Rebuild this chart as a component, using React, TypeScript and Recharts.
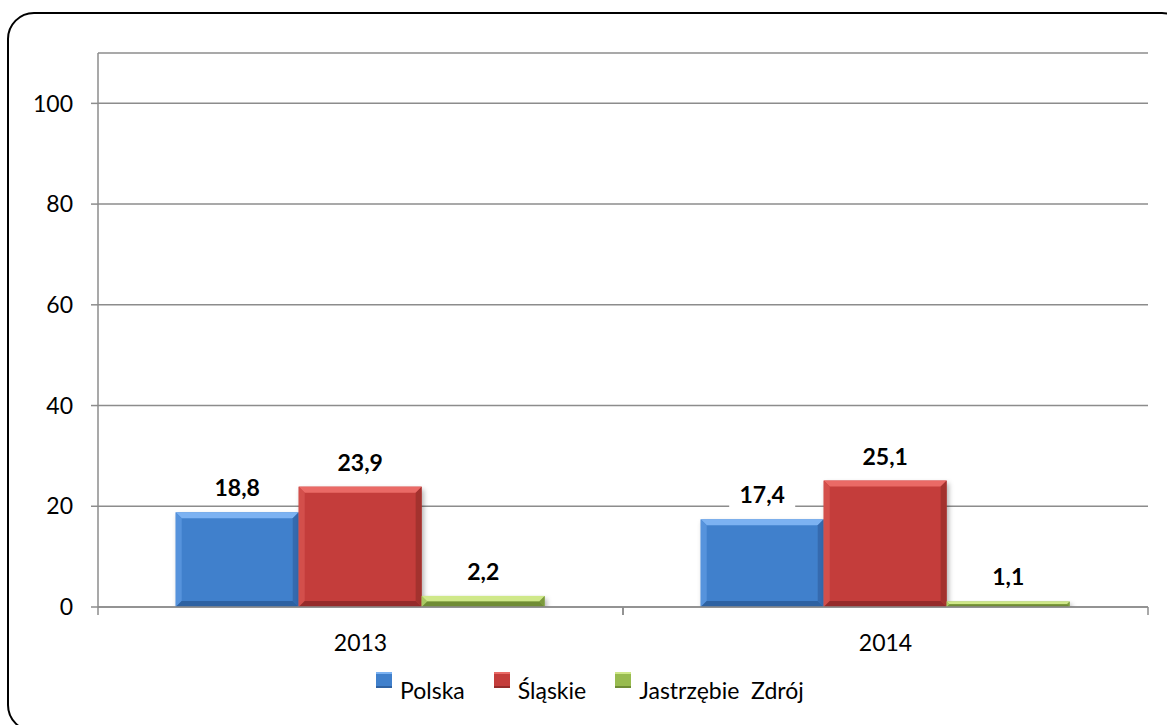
import React from "react";
import { BarChart, Bar, XAxis, YAxis, CartesianGrid, LabelList } from "recharts";

const categories = ["2013", "2014"];
const polska = [18.8, 17.4];
const slaskie = [23.9, 25.1];
const jastrzebie = [2.2, 1.1];
const yTicks = [0, 20, 40, 60, 80, 100];

const seriesNames = ["Polska", "Śląskie", "Jastrzębie  Zdrój"];

const palette = {
  blue: { base: "#4080cc", light: "#7bb2f2", side: "#5793dc", dark: "#2f62a2" },
  red: { base: "#c43d3b", light: "#ea6a66", side: "#d34f4c", dark: "#952c2a" },
  green: { base: "#98bb4f", light: "#cfe889", side: "#a9c962", dark: "#6f8c35" },
};

const data = categories.map((year, i) => ({
  year,
  polska: polska[i],
  slaskie: slaskie[i],
  jastrzebie: jastrzebie[i],
}));

const FONT = "Lato, 'Liberation Sans', sans-serif";
const PLOT_LEFT = 98;
const PLOT_RIGHT = 1148;

// bar with a bevelled edge, like the office "3D" bar style
function BevelBar(props: any) {
  const { x, y, width, height, c } = props;
  if (!width || height == null || height <= 0) return null;
  const b = Math.min(6, height / 2, width / 2);
  return (
    <g filter="url(#barShadow)">
      <rect x={x} y={y} width={width} height={height} fill={c.base} />
      <polygon
        points={`${x},${y} ${x + width},${y} ${x + width - b},${y + b} ${x + b},${y + b}`}
        fill={c.light}
      />
      <polygon
        points={`${x},${y} ${x + b},${y + b} ${x + b},${y + height - b} ${x},${y + height}`}
        fill={c.side}
      />
      <polygon
        points={`${x + width},${y} ${x + width - b},${y + b} ${x + width - b},${y + height - b} ${x + width},${y + height}`}
        fill={c.dark}
        opacity={0.7}
      />
      <polygon
        points={`${x},${y + height} ${x + b},${y + height - b} ${x + width - b},${y + height - b} ${x + width},${y + height}`}
        fill={c.dark}
      />
    </g>
  );
}

function ValueLabel(props: any) {
  const { x, y, width, value } = props;
  const text = String(value).replace(".", ",");
  const cx = x + width / 2;
  const cy = y - 25;
  return (
    <g>
      <rect x={cx - 33} y={cy - 13} width={66} height={26} fill="#ffffff" />
      <text
        x={cx}
        y={cy}
        textAnchor="middle"
        dominantBaseline="central"
        fontFamily={FONT}
        fontWeight={700}
        fontSize={23}
        fill="#000"
      >
        {text}
      </text>
    </g>
  );
}

// category label plus tick marks on the category boundaries
function YearTick(props: any) {
  const { x, y, payload } = props;
  const half = (PLOT_RIGHT - PLOT_LEFT) / categories.length / 2;
  const axisY = y - 28;
  return (
    <g>
      <line x1={x - half} y1={axisY} x2={x - half} y2={axisY + 8} stroke="#8c8c8c" strokeWidth={1.5} />
      <line x1={x + half} y1={axisY} x2={x + half} y2={axisY + 8} stroke="#8c8c8c" strokeWidth={1.5} />
      <text x={x} y={y} dy="0.71em" textAnchor="middle" fontFamily={FONT} fontSize={23} fill="#000">
        {payload.value}
      </text>
    </g>
  );
}

const legendColors = [palette.blue, palette.red, palette.green];

export default function App() {
  return (
    <div
      style={{
        position: "fixed",
        left: 0,
        top: 0,
        width: 1167,
        height: 725,
        overflow: "hidden",
        background: "#fff",
      }}
    >
      <svg
        width={1167}
        height={725}
        style={{ position: "absolute", left: 0, top: 0, overflow: "hidden" }}
      >
        <defs>
          <filter id="barShadow" x="-10%" y="-10%" width="130%" height="140%">
            <feDropShadow dx={2} dy={3} stdDeviation={2.5} floodColor="#000" floodOpacity={0.3} />
          </filter>
        </defs>
        <rect x={8} y={13} width={1180} height={718} rx={26} ry={26} fill="none" stroke="#000" strokeWidth={2} />
      </svg>
      <div style={{ position: "absolute", left: 0, top: 0 }}>
        <BarChart
          width={1167}
          height={725}
          data={data}
          margin={{ top: 53, right: 1167 - PLOT_RIGHT, left: PLOT_LEFT - 60, bottom: 78 }}
          barCategoryGap="14.8%"
          barGap={0}
        >
          <CartesianGrid vertical={false} stroke="#8c8c8c" strokeWidth={1.5} />
          <XAxis
            dataKey="year"
            axisLine={{ stroke: "#8c8c8c", strokeWidth: 1.5 }}
            tickLine={false}
            tickSize={8}
            tickMargin={20}
            height={40}
            tick={<YearTick />}
            interval={0}
          />
          <YAxis
            domain={[0, 110]}
            ticks={yTicks}
            width={60}
            axisLine={{ stroke: "#8c8c8c", strokeWidth: 1.5 }}
            tickLine={{ stroke: "#8c8c8c", strokeWidth: 1.5 }}
            tickSize={7}
            tickMargin={18}
            tick={{ fontFamily: FONT, fontSize: 23, fill: "#000" }}
            allowDataOverflow
          />
          <Bar dataKey="polska" isAnimationActive={false} shape={(p: any) => <BevelBar {...p} c={palette.blue} />}>
            <LabelList dataKey="polska" content={<ValueLabel />} />
          </Bar>
          <Bar dataKey="slaskie" isAnimationActive={false} shape={(p: any) => <BevelBar {...p} c={palette.red} />}>
            <LabelList dataKey="slaskie" content={<ValueLabel />} />
          </Bar>
          <Bar dataKey="jastrzebie" isAnimationActive={false} shape={(p: any) => <BevelBar {...p} c={palette.green} />}>
            <LabelList dataKey="jastrzebie" content={<ValueLabel />} />
          </Bar>
        </BarChart>
      </div>
      <div
        style={{
          position: "absolute",
          top: 672,
          left: 376,
          display: "flex",
          alignItems: "flex-start",
          fontFamily: FONT,
          fontSize: 23,
          lineHeight: 1.2,
          color: "#000",
          whiteSpace: "pre",
        }}
      >
        {seriesNames.map((name, i) => (
          <div key={name} style={{ display: "flex", alignItems: "flex-start", marginRight: 29 }}>
            <span
              style={{
                display: "inline-block",
                width: 16,
                height: 16,
                background: legendColors[i].base,
                boxShadow: `inset 0 2px 0 ${legendColors[i].light}, inset 0 -2px 0 ${legendColors[i].dark}`,
                marginRight: 8,
              }}
            />
            <span style={{ marginTop: 5 }}>{name}</span>
          </div>
        ))}
      </div>
    </div>
  );
}
